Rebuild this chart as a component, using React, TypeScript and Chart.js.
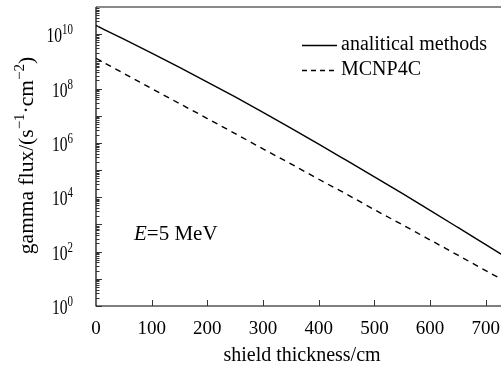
import React, { useEffect, useRef } from 'react';
import { Chart, registerables } from 'chart.js';

Chart.register(...registerables);

const thickness = [0, 50, 100, 150, 200, 250, 300, 350, 400, 450, 500, 550, 600, 650, 700, 740];
const analytical = [2.09e10, 6.53e9, 2.0e9, 5.96e8, 1.74e8, 4.9e7, 1.33e7, 3.51e6, 9.02e5, 2.26e5, 5.62e4, 1.38e4, 3.31e3, 7.76e2, 1.8e2, 56];
const mcnp = [1.3e9, 3.6e8, 1.0e8, 2.8e7, 7.9e6, 2.2e6, 6.0e5, 1.7e5, 4.6e4, 1.3e4, 3.5e3, 9.8e2, 2.7e2, 74, 20, 7.2];
const xTickValues = [0, 100, 200, 300, 400, 500, 600, 700];
const yLabelExponents = [0, 2, 4, 6, 8, 10];
const seriesNames = ['analitical methods', 'MCNP4C'];
const xTitle = 'shield thickness/cm';
const yTitleParts = [
  { t: 'gamma flux/(s', sup: false },
  { t: '\u22121', sup: true },
  { t: '\u00b7cm', sup: false },
  { t: '\u22122', sup: true },
  { t: ')', sup: false },
];
const annotationVar = 'E';
const annotationRest = '=5 MeV';

const FONT = '"Liberation Serif", "Times New Roman", serif';
const FS = 19;

const decor = {
  id: 'decor',
  afterDraw(chart: any) {
    const ctx = chart.ctx;
    const a = chart.chartArea;
    const xs = chart.scales.x;
    const ys = chart.scales.y;
    ctx.save();
    // top border
    ctx.strokeStyle = '#8a8a8a';
    ctx.lineWidth = 2;
    ctx.beginPath();
    ctx.moveTo(a.left, a.top);
    ctx.lineTo(chart.width, a.top);
    ctx.stroke();
    // axes
    ctx.strokeStyle = '#000';
    ctx.lineWidth = 1.2;
    ctx.beginPath();
    ctx.moveTo(a.left, a.top);
    ctx.lineTo(a.left, a.bottom);
    ctx.lineTo(chart.width, a.bottom);
    ctx.stroke();
    // y ticks
    ctx.lineWidth = 1;
    ctx.strokeStyle = '#333';
    ctx.beginPath();
    for (let e = 0; e <= 10; e++) {
      for (let m = 1; m <= 9; m++) {
        const v = m * Math.pow(10, e);
        const py = Math.round(ys.getPixelForValue(v)) + 0.5;
        if (py < a.top + 1) continue;
        const len = m === 1 ? 6 : 3.5;
        ctx.moveTo(a.left, py);
        ctx.lineTo(a.left + len, py);
      }
    }
    ctx.stroke();
    // x ticks
    ctx.beginPath();
    for (const t of xTickValues) {
      if (t === 0) continue;
      const px = Math.round(xs.getPixelForValue(t)) + 0.5;
      ctx.moveTo(px, a.bottom);
      ctx.lineTo(px, a.bottom - 6);
    }
    ctx.stroke();
    // y tick labels (slightly condensed like the original)
    ctx.fillStyle = '#000';
    ctx.textBaseline = 'alphabetic';
    const right = 73;
    const sx = 0.78;
    for (const e of yLabelExponents) {
      const py = ys.getPixelForValue(Math.pow(10, e));
      ctx.save();
      ctx.translate(right, 0);
      ctx.scale(sx, 1);
      ctx.font = `14px ${FONT}`;
      const sw = ctx.measureText(String(e)).width;
      ctx.textAlign = 'left';
      ctx.fillText(String(e), -sw, py + 0);
      ctx.font = `20px ${FONT}`;
      ctx.textAlign = 'right';
      ctx.fillText('10', -sw, py + 8);
      ctx.restore();
    }
    // y title
    ctx.save();
    ctx.translate(33, (a.top + a.bottom) / 2 - 1);
    ctx.rotate(-Math.PI / 2);
    const TF = 21.5;
    const SF = 15;
    let total = 0;
    const widths: number[] = [];
    for (const p of yTitleParts) {
      ctx.font = `${p.sup ? SF : TF}px ${FONT}`;
      const w = ctx.measureText(p.t).width;
      widths.push(w);
      total += w;
    }
    let cx = -total / 2;
    ctx.textAlign = 'left';
    yTitleParts.forEach((p, i) => {
      ctx.font = `${p.sup ? SF : TF}px ${FONT}`;
      ctx.fillText(p.t, cx, p.sup ? -9 : 0);
      cx += widths[i];
    });
    ctx.restore();
    // legend
    const lx1 = 302, lx2 = 337;
    const rows = [45, 70];
    ctx.lineWidth = 1.3;
    ctx.strokeStyle = '#000';
    rows.forEach((ry, i) => {
      ctx.setLineDash(i === 0 ? [] : [5, 4]);
      ctx.beginPath();
      ctx.moveTo(lx1, ry + 0.5);
      ctx.lineTo(lx2, ry + 0.5);
      ctx.stroke();
      ctx.setLineDash([]);
      ctx.font = `20px ${FONT}`;
      ctx.textAlign = 'left';
      ctx.textBaseline = 'middle';
      ctx.fillText(seriesNames[i], 341, ry);
    });
    // annotation
    ctx.textBaseline = 'middle';
    ctx.textAlign = 'left';
    ctx.font = `italic 21px ${FONT}`;
    ctx.fillText(annotationVar, 134, 234);
    const ew = ctx.measureText(annotationVar).width;
    ctx.font = `21px ${FONT}`;
    ctx.fillText(annotationRest, 134 + ew, 234);
    ctx.restore();
  },
};

export default function App() {
  const ref = useRef<HTMLCanvasElement | null>(null);
  useEffect(() => {
    if (!ref.current) return;
    const chart = new Chart(ref.current, {
      type: 'line',
      data: {
        datasets: [
          {
            label: seriesNames[0],
            data: thickness.map((x, i) => ({ x, y: analytical[i] })),
            borderColor: '#000',
            borderWidth: 1.4,
            pointRadius: 0,
            fill: false,
            cubicInterpolationMode: 'monotone',
          },
          {
            label: seriesNames[1],
            data: thickness.map((x, i) => ({ x, y: mcnp[i] })),
            borderColor: '#000',
            borderWidth: 1.4,
            borderDash: [6, 5],
            pointRadius: 0,
            fill: false,
            cubicInterpolationMode: 'monotone',
          },
        ],
      },
      options: {
        responsive: false,
        animation: false,
        devicePixelRatio: 1,
        layout: { padding: { left: 0, right: 0, top: 7, bottom: 0 } },
        plugins: { legend: { display: false }, tooltip: { enabled: false } },
        scales: {
          x: {
            type: 'linear',
            min: 0,
            max: 740,
            grid: { display: false, drawTicks: false },
            border: { display: false },
            afterBuildTicks: (s: any) => {
              s.ticks = xTickValues.map((v) => ({ value: v }));
            },
            ticks: {
              padding: 12,
              color: '#000',
              font: { family: FONT, size: FS },
              maxRotation: 0,
              autoSkip: false,
            },
            title: {
              display: true,
              text: xTitle,
              color: '#000',
              font: { family: FONT, size: 20 },
              padding: { top: 2, bottom: 0 },
            },
            afterFit: (s: any) => {
              s.height = 62;
            },
          },
          y: {
            type: 'logarithmic',
            min: 1,
            max: 1e11,
            grid: { display: false, drawTicks: false },
            border: { display: false },
            ticks: { display: false },
            afterFit: (s: any) => {
              s.width = 96;
            },
          },
        },
      },
      plugins: [decor],
    });
    return () => chart.destroy();
  }, []);
  return (
    <div style={{ position: 'absolute', left: 0, top: 0, width: 501, height: 368, overflow: 'hidden', background: '#fff' }}>
      <canvas ref={ref} width={512} height={368} style={{ display: 'block' }} />
    </div>
  );
}
